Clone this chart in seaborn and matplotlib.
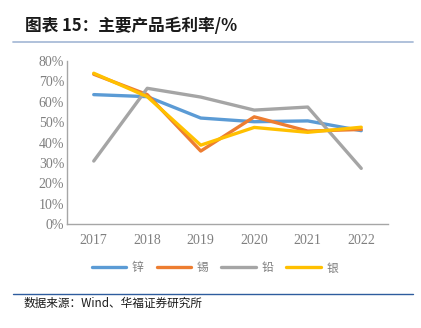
import matplotlib
matplotlib.use("Agg")
import matplotlib.pyplot as plt
import seaborn as sns
import pandas as pd
from matplotlib.ticker import FuncFormatter
from matplotlib.lines import Line2D

years = ["2017", "2018", "2019", "2020", "2021", "2022"]
series_names = ["锌", "锡", "铅", "银"]
zinc = [63.5, 62.5, 52.0, 50.2, 50.6, 45.8]
tin = [73.5, 63.5, 35.8, 52.6, 45.6, 46.4]
lead = [30.9, 66.6, 62.3, 55.9, 57.4, 27.3]
silver = [74.0, 62.5, 38.7, 47.4, 45.0, 47.5]
colors = ["#5B9BD5", "#ED7D31", "#A5A5A5", "#FFC000"]

sns.set_theme(style="white")
plt.rcParams['font.family'] = ['Noto Sans CJK SC', 'DejaVu Sans']

df = pd.DataFrame({"year": years * 4,
                   "value": zinc + tin + lead + silver,
                   "series": sum([[n] * len(years) for n in series_names], [])})

fig = plt.figure(figsize=(4.21, 3.28), dpi=100)
ax = fig.add_axes([67 / 421, 1 - 224 / 328, 321 / 421, 163 / 328])

sns.lineplot(data=df, x="year", y="value", hue="series", palette=colors,
             linewidth=2.4, ax=ax, legend=False, sort=False)

ax.set_xlim(-0.5, 5.5)
ax.set_ylim(0, 80)
ax.set_yticks(range(0, 81, 10))
ax.yaxis.set_major_formatter(FuncFormatter(lambda v, p: f"{int(v)}%"))
ax.set_xlabel("")
ax.set_ylabel("")
for s in ["top", "right"]:
    ax.spines[s].set_visible(False)
for s in ["left", "bottom"]:
    ax.spines[s].set_color("#A6A6A6")
    ax.spines[s].set_linewidth(1.0)
ax.tick_params(axis="y", direction="in", length=4, width=1, color="#A6A6A6",
               labelsize=10, labelcolor="#7F7F7F", pad=2)
ax.tick_params(axis="x", length=0, labelsize=10, labelcolor="#7F7F7F", pad=7)
for lab in ax.get_xticklabels() + ax.get_yticklabels():
    lab.set_fontfamily("Liberation Serif")

# legend
handles = [Line2D([0], [0], color=c, lw=2.4, solid_capstyle="round") for c in colors]
fig.legend(handles, series_names, loc="center", bbox_to_anchor=(215 / 421, 1 - 268 / 328),
           ncol=4, frameon=False, fontsize=8.5, handlelength=2.9, columnspacing=1.1,
           handletextpad=0.5, labelcolor="#7F7F7F")

# title and rules
fig.text(25 / 421, 1 - 26 / 328, "图表 15：主要产品毛利率/%", fontsize=12, fontweight="bold",
         va="center", ha="left", color="#1a1a1a")
fig.add_artist(Line2D([13 / 421, 413 / 421], [1 - 42 / 328] * 2, color="#A9BCD8", lw=1.3))
fig.add_artist(Line2D([13 / 421, 413 / 421], [1 - 294 / 328] * 2, color="#2E5C9E", lw=1.0))
fig.text(23 / 421, 1 - 303 / 328, "数据来源：Wind、华福证券研究所", fontsize=8.4,
         va="center", ha="left", color="#1a1a1a")

fig.savefig("out.png", dpi=100)
